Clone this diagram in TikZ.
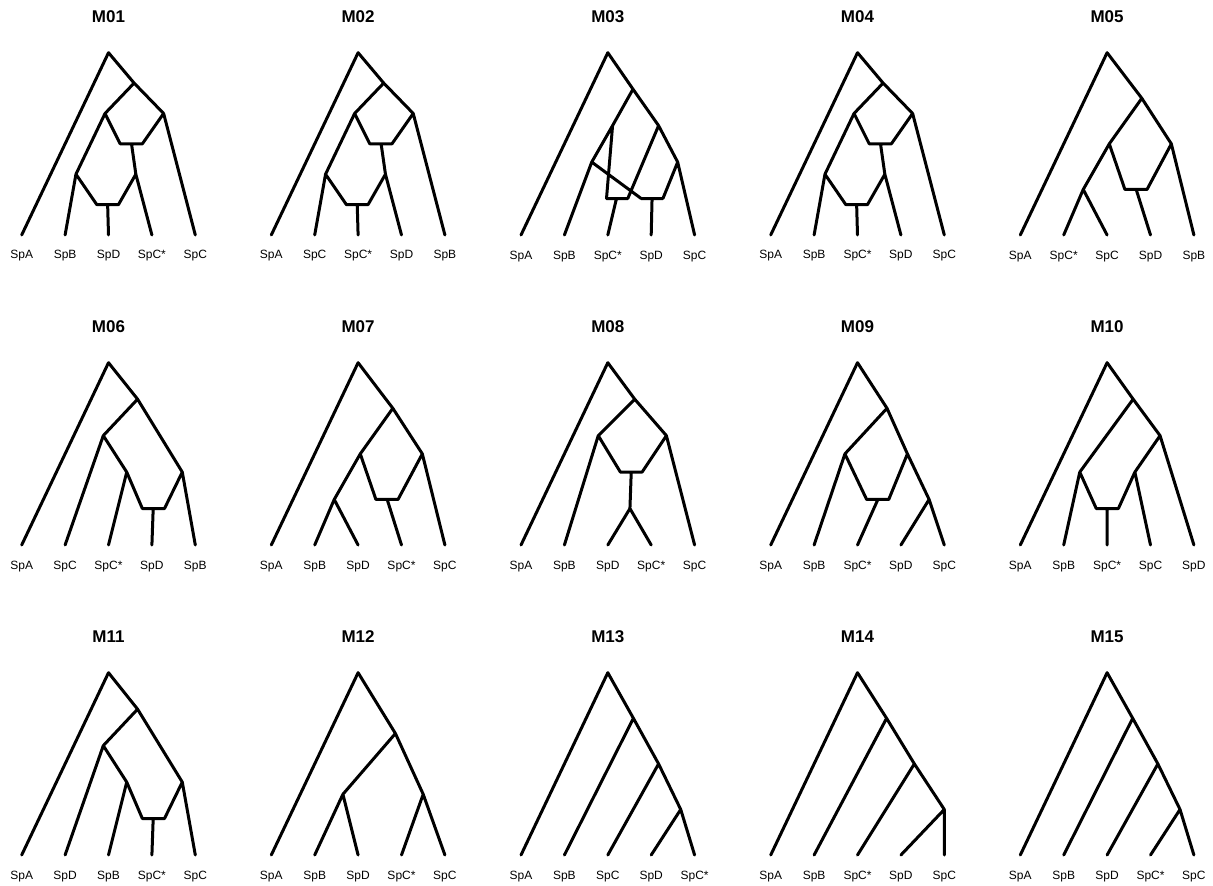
\documentclass[tikz,border=0pt]{standalone}
\usepackage{fontspec}
\setmainfont{Liberation Sans}
\tikzset{
 br/.style={line width=3pt, line cap=round, line join=round},
 ttl/.style={font=\fontsize{17}{20}\selectfont\bfseries, anchor=base, inner sep=0pt},
 lab/.style={font=\fontsize{12}{14}\selectfont, anchor=base, inner sep=0pt},
 d3/.style={x=43.4pt, y=-60.77pt},
 d4/.style={x=43.4pt, y=-45.58pt},
 d5/.style={x=43.4pt, y=-36.46pt},
 d6/.style={x=43.4pt, y=-30.38pt},
}
\newcommand\mkpanel[8]{%
 \coordinate (#1-r) at (2,0);
 \coordinate (#1-0) at (0,#2);
 \coordinate (#1-1) at (1,#2);
 \coordinate (#1-2) at (2,#2);
 \coordinate (#1-3) at (3,#2);
 \coordinate (#1-4) at (4,#2);
 \node[ttl] (#1-t) at ([yshift=30pt]#1-r) {#3};
 \node[lab] (#1-a) at ([yshift=-24pt]#1-0) {#4};
 \node[lab] (#1-b) at ([yshift=-24pt]#1-1) {#5};
 \node[lab] (#1-c) at ([yshift=-24pt]#1-2) {#6};
 \node[lab] (#1-d) at ([yshift=-24pt]#1-3) {#7};
 \node[lab] (#1-e) at ([yshift=-24pt]#1-4) {#8};
 \draw[br] (#1-r) -- (#1-0);
}
% M01, M02, M04
\newcommand\shpA[1]{%
 \coordinate (#1-n1) at (2.59,1);
 \coordinate (#1-n2L) at (1.92,2);
 \coordinate (#1-n2R) at (3.27,2);
 \coordinate (#1-h1L) at (2.27,3);
 \coordinate (#1-h1R) at (2.78,3);
 \coordinate (#1-h1C) at (2.53,3);
 \coordinate (#1-n4L) at (1.25,4);
 \coordinate (#1-n4R) at (2.63,4);
 \coordinate (#1-h2L) at (1.73,5);
 \coordinate (#1-h2R) at (2.23,5);
 \coordinate (#1-h2C) at (1.98,5);
 \draw[br] (#1-r) -- (#1-n1) (#1-n1) -- (#1-n2L) (#1-n1) -- (#1-n2R)
  (#1-n2L) -- (#1-h1L) -- (#1-h1R) -- (#1-n2R)
  (#1-h1C) -- (#1-n4R) (#1-n2L) -- (#1-n4L)
  (#1-n4L) -- (#1-h2L) -- (#1-h2R) -- (#1-n4R)
  (#1-h2C) -- (#1-2) (#1-n4L) -- (#1-1) (#1-n4R) -- (#1-3) (#1-n2R) -- (#1-4);
}
% M05, M07
\newcommand\shpB[1]{%
 \coordinate (#1-n1) at (2.8,1);
 \coordinate (#1-n2L) at (2.05,2);
 \coordinate (#1-n2R) at (3.48,2);
 \coordinate (#1-n3) at (1.45,3);
 \coordinate (#1-hL) at (2.41,3);
 \coordinate (#1-hR) at (2.92,3);
 \coordinate (#1-hC) at (2.67,3);
 \draw[br] (#1-r) -- (#1-n1) (#1-n1) -- (#1-n2L) (#1-n1) -- (#1-n2R)
  (#1-n2L) -- (#1-n3) (#1-n3) -- (#1-1) (#1-n3) -- (#1-2)
  (#1-n2L) -- (#1-hL) -- (#1-hR) -- (#1-n2R)
  (#1-hC) -- (#1-3) (#1-n2R) -- (#1-4);
}
% M06, M11
\newcommand\shpC[1]{%
 \coordinate (#1-n1) at (2.67,1);
 \coordinate (#1-n2) at (1.88,2);
 \coordinate (#1-n3L) at (2.42,3);
 \coordinate (#1-n3R) at (3.70,3);
 \coordinate (#1-hL) at (2.78,4);
 \coordinate (#1-hR) at (3.29,4);
 \coordinate (#1-hC) at (3.03,4);
 \draw[br] (#1-r) -- (#1-n1) (#1-n1) -- (#1-n2) (#1-n1) -- (#1-n3R)
  (#1-n2) -- (#1-1) (#1-n2) -- (#1-n3L) (#1-n3L) -- (#1-2)
  (#1-n3L) -- (#1-hL) -- (#1-hR) -- (#1-n3R)
  (#1-hC) -- (#1-3) (#1-n3R) -- (#1-4);
}
% caterpillar
\newcommand\shpCat[4]{%
 \coordinate (#1-n1) at (#2,1);
 \coordinate (#1-n2) at (#3,2);
 \coordinate (#1-n3) at (#4,3);
 \draw[br] (#1-r) -- (#1-n1) (#1-n1) -- (#1-1) (#1-n1) -- (#1-n2)
  (#1-n2) -- (#1-2) (#1-n2) -- (#1-n3) (#1-n3) -- (#1-3) (#1-n3) -- (#1-4);
}
\begin{document}
\begin{tikzpicture}
\path[use as bounding box] (0pt,0pt) rectangle (1213pt,-886pt);
% ---------- row 1
\begin{scope}[shift={(21.7pt,-52.7pt)}, d6]
 \mkpanel{a}{6}{M01}{SpA}{SpB}{SpD}{SpC*}{SpC}
 \shpA{a}
\end{scope}
\begin{scope}[shift={(271.3pt,-52.7pt)}, d6]
 \mkpanel{b}{6}{M02}{SpA}{SpC}{SpC*}{SpD}{SpB}
 \shpA{b}
\end{scope}
\begin{scope}[shift={(521pt,-52.7pt)}, d5]
 \mkpanel{c}{5}{M03}{SpA}{SpB}{SpC*}{SpD}{SpC}
 \coordinate (c-n1) at (2.58,1);
 \coordinate (c-n2) at (3.17,2);
 \coordinate (c-n3) at (3.61,3);
 \coordinate (c-m1) at (2.11,2);
 \coordinate (c-m2) at (1.63,3);
 \coordinate (c-h1L) at (1.97,4);
 \coordinate (c-h1R) at (2.46,4);
 \coordinate (c-h1C) at (2.2,4);
 \coordinate (c-h2L) at (2.77,4);
 \coordinate (c-h2R) at (3.27,4);
 \coordinate (c-h2C) at (3.02,4);
 \draw[br] (c-r) -- (c-n1) (c-n1) -- (c-n2) (c-n2) -- (c-n3) (c-n3) -- (c-4)
  (c-n3) -- (c-h2R) (c-n1) -- (c-m1) (c-m1) -- (c-m2) (c-m2) -- (c-1)
  (c-m2) -- (c-h2L) (c-m1) -- (c-h1L) (c-n2) -- (c-h1R) (c-h1L) -- (c-h1R)
  (c-h1C) -- (c-2) (c-h2L) -- (c-h2R) (c-h2C) -- (c-3);
\end{scope}
\begin{scope}[shift={(770.7pt,-52.7pt)}, d6]
 \mkpanel{d}{6}{M04}{SpA}{SpB}{SpC*}{SpD}{SpC}
 \shpA{d}
\end{scope}
\begin{scope}[shift={(1020.3pt,-52.7pt)}, d4]
 \mkpanel{e}{4}{M05}{SpA}{SpC*}{SpC}{SpD}{SpB}
 \shpB{e}
\end{scope}
% ---------- row 2
\begin{scope}[shift={(21.7pt,-362.7pt)}, d5]
 \mkpanel{f}{5}{M06}{SpA}{SpC}{SpC*}{SpD}{SpB}
 \shpC{f}
\end{scope}
\begin{scope}[shift={(271.3pt,-362.7pt)}, d4]
 \mkpanel{g}{4}{M07}{SpA}{SpB}{SpD}{SpC*}{SpC}
 \shpB{g}
\end{scope}
\begin{scope}[shift={(521pt,-362.7pt)}, d5]
 \mkpanel{h}{5}{M08}{SpA}{SpB}{SpD}{SpC*}{SpC}
 \coordinate (h-n1) at (2.62,1);
 \coordinate (h-n2L) at (1.78,2);
 \coordinate (h-n2R) at (3.35,2);
 \coordinate (h-hL) at (2.29,3);
 \coordinate (h-hR) at (2.79,3);
 \coordinate (h-hC) at (2.54,3);
 \coordinate (h-n4) at (2.51,4);
 \draw[br] (h-r) -- (h-n1) (h-n1) -- (h-n2L) (h-n1) -- (h-n2R)
  (h-n2L) -- (h-1) (h-n2L) -- (h-hL) -- (h-hR) -- (h-n2R)
  (h-hC) -- (h-n4) (h-n4) -- (h-2) (h-n4) -- (h-3) (h-n2R) -- (h-4);
\end{scope}
\begin{scope}[shift={(770.7pt,-362.7pt)}, d4]
 \mkpanel{i}{4}{M09}{SpA}{SpB}{SpC*}{SpD}{SpC}
 \coordinate (i-n1) at (2.68,1);
 \coordinate (i-n2L) at (1.71,2);
 \coordinate (i-n2R) at (3.15,2);
 \coordinate (i-hL) at (2.21,3);
 \coordinate (i-hR) at (2.72,3);
 \coordinate (i-hC) at (2.47,3);
 \coordinate (i-n3) at (3.65,3);
 \draw[br] (i-r) -- (i-n1) (i-n1) -- (i-n2L) (i-n1) -- (i-n2R)
  (i-n2L) -- (i-1) (i-n2L) -- (i-hL) -- (i-hR) -- (i-n2R)
  (i-hC) -- (i-2) (i-n2R) -- (i-n3) (i-n3) -- (i-3) (i-n3) -- (i-4);
\end{scope}
\begin{scope}[shift={(1020.3pt,-362.7pt)}, d5]
 \mkpanel{j}{5}{M10}{SpA}{SpB}{SpC*}{SpC}{SpD}
 \coordinate (j-n1) at (2.6,1);
 \coordinate (j-n2) at (3.22,2);
 \coordinate (j-n3L) at (1.37,3);
 \coordinate (j-n3R) at (2.64,3);
 \coordinate (j-hL) at (1.75,4);
 \coordinate (j-hR) at (2.26,4);
 \coordinate (j-hC) at (2.0,4);
 \draw[br] (j-r) -- (j-n1) (j-n1) -- (j-n2) (j-n1) -- (j-n3L) (j-n2) -- (j-n3R)
  (j-n2) -- (j-4) (j-n3L) -- (j-1) (j-n3L) -- (j-hL) -- (j-hR) -- (j-n3R)
  (j-hC) -- (j-2) (j-n3R) -- (j-3);
\end{scope}
% ---------- row 3
\begin{scope}[shift={(21.7pt,-672.7pt)}, d5]
 \mkpanel{k}{5}{M11}{SpA}{SpD}{SpB}{SpC*}{SpC}
 \shpC{k}
\end{scope}
\begin{scope}[shift={(271.3pt,-672.7pt)}, d3]
 \mkpanel{l}{3}{M12}{SpA}{SpB}{SpD}{SpC*}{SpC}
 \coordinate (l-n1) at (2.86,1);
 \coordinate (l-n2L) at (1.65,2);
 \coordinate (l-n2R) at (3.5,2);
 \draw[br] (l-r) -- (l-n1) (l-n1) -- (l-n2L) (l-n1) -- (l-n2R)
  (l-n2L) -- (l-1) (l-n2L) -- (l-2) (l-n2R) -- (l-3) (l-n2R) -- (l-4);
\end{scope}
\begin{scope}[shift={(521pt,-672.7pt)}, d4]
 \mkpanel{m}{4}{M13}{SpA}{SpB}{SpC}{SpD}{SpC*}
 \shpCat{m}{2.59}{3.17}{3.68}
\end{scope}
\begin{scope}[shift={(770.7pt,-672.7pt)}, d4]
 \mkpanel{n}{4}{M14}{SpA}{SpB}{SpC*}{SpD}{SpC}
 \shpCat{n}{2.67}{3.31}{4.0}
\end{scope}
\begin{scope}[shift={(1020.3pt,-672.7pt)}, d4]
 \mkpanel{o}{4}{M15}{SpA}{SpB}{SpD}{SpC*}{SpC}
 \shpCat{o}{2.59}{3.17}{3.68}
\end{scope}
\end{tikzpicture}
\end{document}
